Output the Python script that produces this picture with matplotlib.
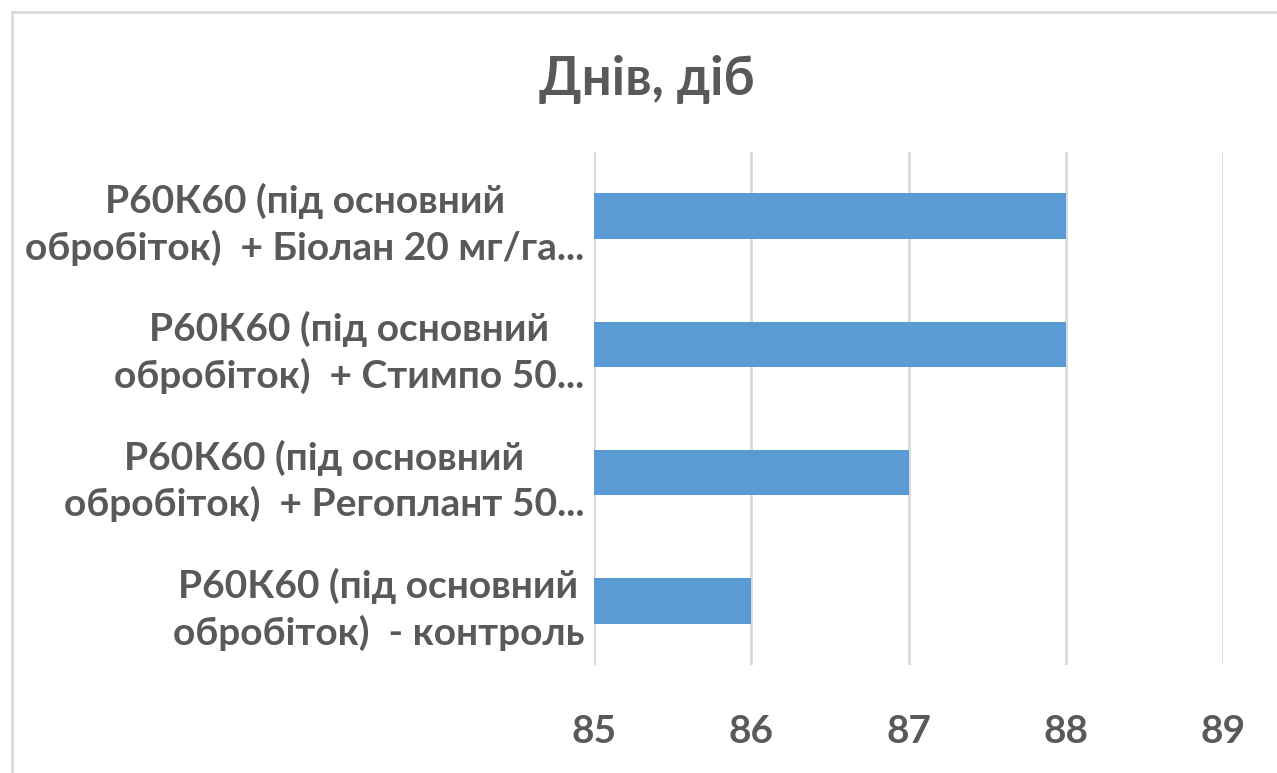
import matplotlib
matplotlib.use("Agg")
import matplotlib.pyplot as plt
from matplotlib import font_manager as fm
from matplotlib.patches import Rectangle

categories = [
    "Р60К60 (під основний\nобробіток)  - контроль",
    "Р60К60 (під основний\nобробіток)  + Регоплант 50...",
    "Р60К60 (під основний\nобробіток)  + Стимпо 50...",
    "Р60К60 (під основний\nобробіток)  + Біолан 20 мг/га...",
]
values = [86, 87, 88, 88]
x_ticks = [85, 86, 87, 88, 89]
title = "Днів, діб"

names = {f.name for f in fm.fontManager.ttflist}
family = "Liberation Sans Narrow" if "Liberation Sans Narrow" in names else "Lato"
plt.rcParams["font.family"] = [family, "DejaVu Sans"]
plt.rcParams["font.weight"] = "bold"

W, H = 1277, 773
fig = plt.figure(figsize=(W / 100, H / 100), dpi=100)
fig.patches.append(Rectangle((12 / W, -0.1), 1.2, 1 - 12 / H + 0.1, transform=fig.transFigure,
                             fill=False, edgecolor="#D9D9D9", linewidth=2))

ax = fig.add_axes([594 / W, 1 - 665 / H, (1223 - 594) / W, (665 - 152) / H])
txt = "#595959"
ypos = list(range(len(categories)))
ax.barh(ypos, [v - 85 for v in values], left=85, height=0.355, color="#5B9BD5", zorder=2)
ax.set_xlim(85, 89)
ax.set_ylim(-0.5, 3.5)
ax.set_xticks(x_ticks)
ax.set_xticklabels([str(t) for t in x_ticks], fontsize=28, color=txt, fontweight="bold")
ax.set_yticks(ypos)
ax.set_yticklabels(categories, fontsize=28, color=txt, fontweight="bold",
                   multialignment="center", linespacing=1.35)
ax.tick_params(axis="both", length=0)
ax.tick_params(axis="x", pad=35)
ax.tick_params(axis="y", pad=7)
ax.grid(axis="x", color="#D9D9D9", linewidth=2, zorder=1)
for s in ax.spines.values():
    s.set_visible(False)

fig.text(647 / W, 1 - 80 / H, title, ha="center", va="center", fontsize=38,
         color=txt, fontweight="bold")

fig.savefig("out.png", dpi=100)
